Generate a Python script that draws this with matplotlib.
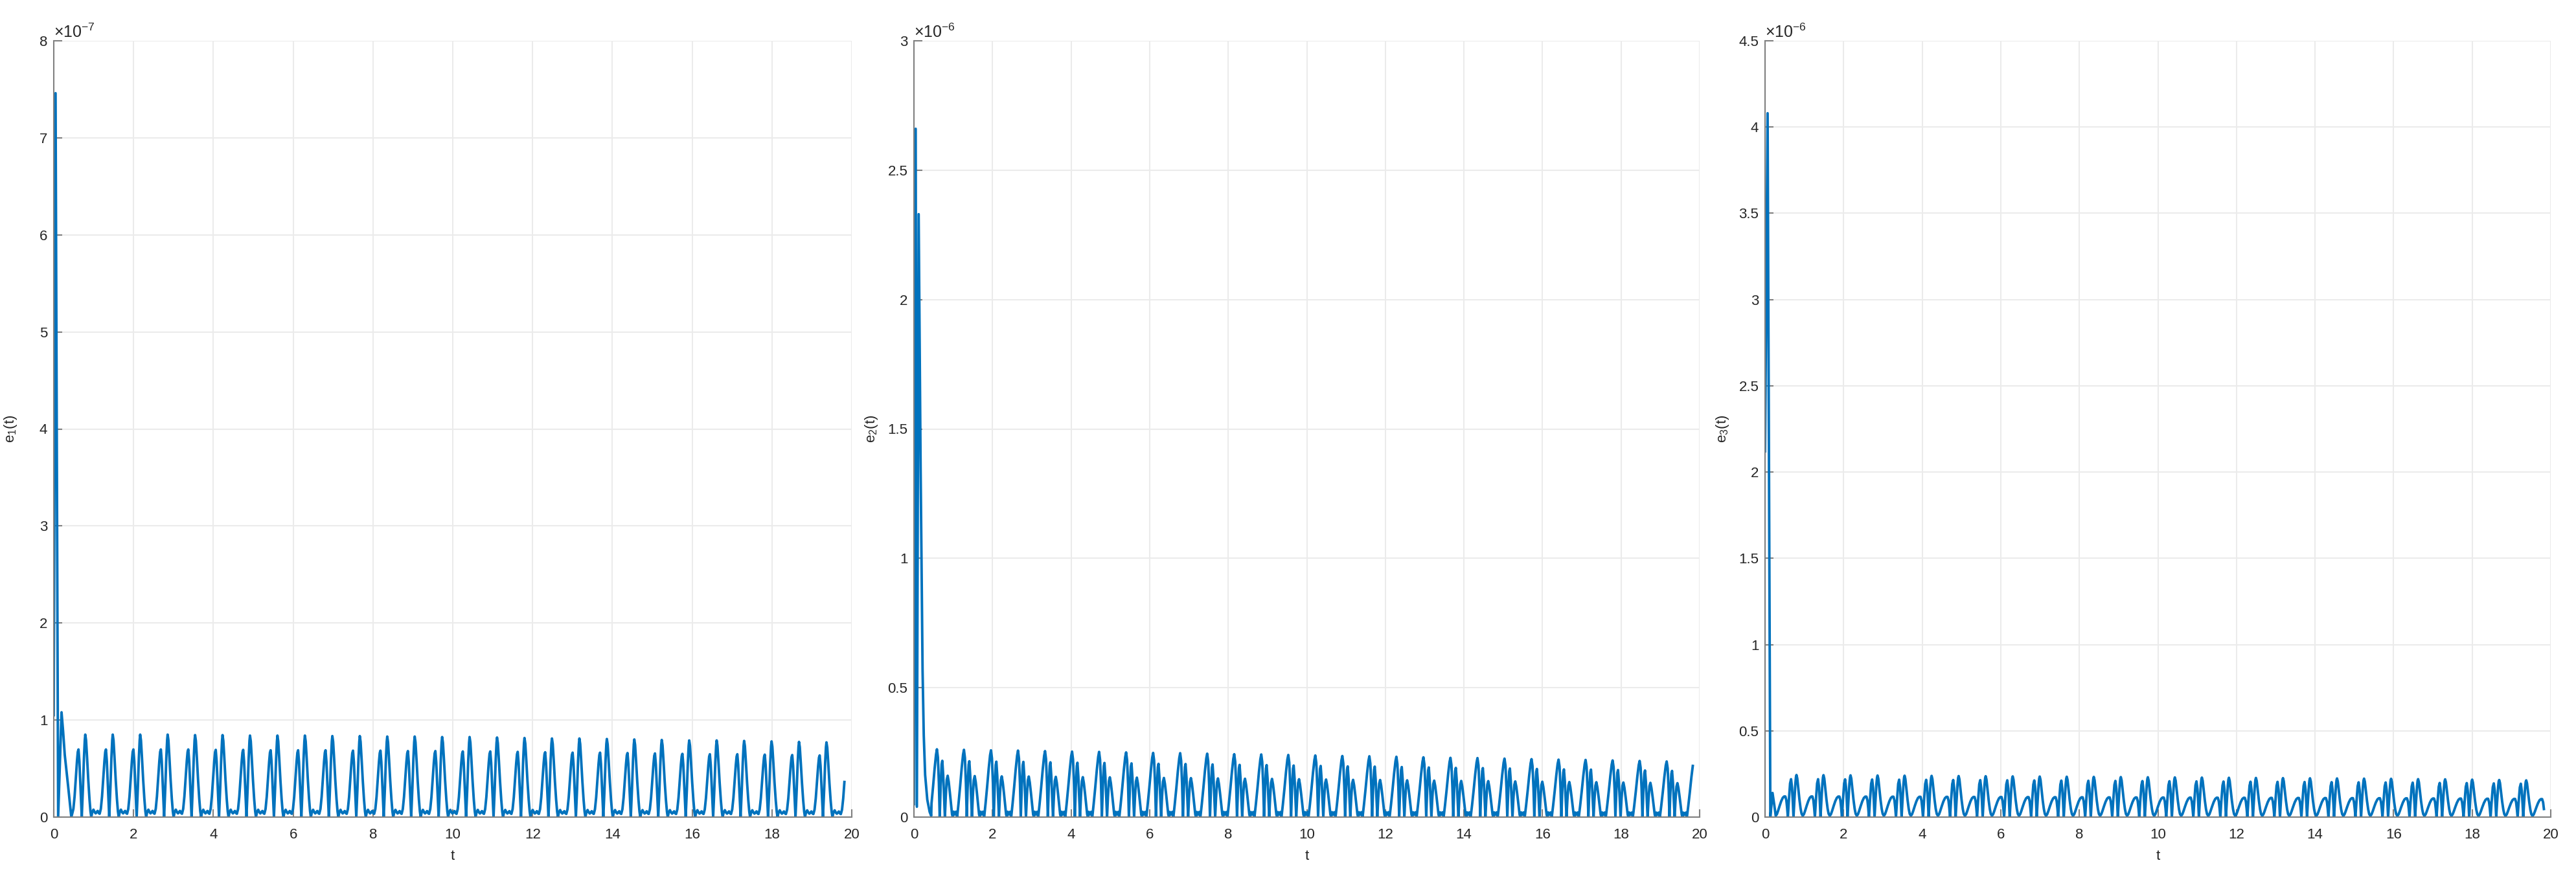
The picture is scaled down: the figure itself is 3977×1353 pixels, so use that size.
import matplotlib
matplotlib.use("Agg")
import matplotlib.pyplot as plt
import numpy as np
from matplotlib.ticker import MultipleLocator, FuncFormatter

plt.rcParams["font.family"] = ["Liberation Sans", "DejaVu Sans"]
plt.rcParams["mathtext.fontset"] = "custom"
plt.rcParams["mathtext.rm"] = "Liberation Sans"
plt.rcParams["mathtext.it"] = "Liberation Sans:italic"

# Спільні параметри сигналу
PERIOD = 0.688  # період коливань
T_END = 19.84

# e1(t), одиниці 1e-7
e1_trans_t = [0.0, 0.045, 0.11, 0.195, 0.235, 0.276, 0.357, 0.44]
e1_trans_v = [1.05, 7.46, 0.0, 1.08, 0.88, 0.64, 0.33, 0.0]
e1_switch = 0.445
e1_first_peak = 0.79
e1_phase = [0.000, 0.020, 0.045, 0.075, 0.105, 0.130, 0.150, 0.175, 0.205, 0.235,
            0.260, 0.285, 0.310, 0.335, 0.360, 0.390, 0.420, 0.450, 0.480, 0.500,
            0.518, 0.540, 0.570, 0.600, 0.630, 0.655, 0.675]
e1_shape = [1.00, 0.93, 0.72, 0.45, 0.22, 0.07, 0.00, 0.06, 0.09, 0.06,
            0.045, 0.06, 0.075, 0.05, 0.04, 0.10, 0.25, 0.47, 0.68, 0.79,
            0.82, 0.68, 0.33, 0.00, 0.36, 0.72, 0.93]
e1_amps = [0.85, 0.85, 0.85, 0.85, 0.85, 0.845, 0.845, 0.84, 0.84, 0.84,
           0.835, 0.835, 0.83, 0.83, 0.825, 0.825, 0.82, 0.815, 0.81, 0.81,
           0.805, 0.80, 0.795, 0.79, 0.79, 0.785, 0.78, 0.775, 0.77]

# e2(t), одиниці 1e-6
e2_trans_t = [0.0, 0.044, 0.075, 0.12, 0.15, 0.17, 0.19, 0.22, 0.25, 0.285, 0.34, 0.40, 0.44]
e2_trans_v = [0.05, 2.66, 0.04, 2.33, 1.75, 1.35, 1.04, 0.565, 0.316, 0.163, 0.067, 0.02, 0.005]
e2_switch = 0.445
e2_first_peak = 0.585
e2_phase = [0.000, 0.025, 0.050, 0.071, 0.095, 0.120, 0.137, 0.160, 0.185, 0.203,
            0.225, 0.250, 0.274, 0.300, 0.330, 0.360, 0.385, 0.405, 0.425, 0.455,
            0.485, 0.515, 0.550, 0.590, 0.630, 0.665]
e2_shape = [1.00, 0.88, 0.50, 0.00, 0.45, 0.78, 0.83, 0.62, 0.25, 0.00,
            0.30, 0.55, 0.61, 0.52, 0.36, 0.18, 0.04, 0.00, 0.08, 0.04,
            0.08, 0.00, 0.20, 0.45, 0.72, 0.92]
e2_amps = [0.262, 0.262, 0.260, 0.258, 0.257, 0.255, 0.253, 0.252, 0.250, 0.248,
           0.247, 0.245, 0.243, 0.242, 0.240, 0.238, 0.236, 0.235, 0.233, 0.231,
           0.229, 0.228, 0.226, 0.224, 0.222, 0.221, 0.219, 0.217, 0.215]

# e3(t), одиниці 1e-6
e3_trans_t = [0.0, 0.065, 0.135, 0.19, 0.235]
e3_trans_v = [2.12, 4.08, 0.0, 0.14, 0.07]
e3_switch = 0.265
e3_first_peak = 0.80
e3_phase = [0.000, 0.020, 0.045, 0.075, 0.105, 0.130, 0.160, 0.190, 0.220, 0.260,
            0.300, 0.340, 0.375, 0.405, 0.430, 0.450, 0.469, 0.495, 0.525, 0.550,
            0.575, 0.595, 0.612, 0.635, 0.660, 0.675]
e3_shape = [1.00, 0.92, 0.70, 0.42, 0.20, 0.08, 0.03, 0.07, 0.15, 0.27,
            0.38, 0.46, 0.49, 0.49, 0.40, 0.22, 0.00, 0.40, 0.80, 0.90,
            0.70, 0.35, 0.00, 0.40, 0.80, 0.95]
e3_amps = [0.244, 0.244, 0.243, 0.242, 0.241, 0.240, 0.239, 0.238, 0.237, 0.236,
           0.235, 0.234, 0.233, 0.232, 0.231, 0.230, 0.229, 0.228, 0.227, 0.226,
           0.225, 0.224, 0.223, 0.222, 0.220, 0.219, 0.217, 0.215, 0.213]


def build(trans_t, trans_v, t_switch, first_peak, phase, shape, amps):
    ts = list(trans_t)
    vs = list(trans_v)
    for j, a in enumerate(amps):
        base = first_peak + (j - 1) * PERIOD
        for p, r in zip(phase, shape):
            t = base + p
            if t_switch <= t <= T_END:
                ts.append(t)
                vs.append(a * r)
    return np.array(ts), np.array(vs)


panels = [
    (build(e1_trans_t, e1_trans_v, e1_switch, e1_first_peak, e1_phase, e1_shape, e1_amps),
     1e-7, 8, 1, "-7", r"$\mathrm{e_1(t)}$", [83, 1232]),
    (build(e2_trans_t, e2_trans_v, e2_switch, e2_first_peak, e2_phase, e2_shape, e2_amps),
     1e-6, 3, 0.5, "-6", r"$\mathrm{e_2(t)}$", [1411, 1213]),
    (build(e3_trans_t, e3_trans_v, e3_switch, e3_first_peak, e3_phase, e3_shape, e3_amps),
     1e-6, 4.5, 0.5, "-6", r"$\mathrm{e_3(t)}$", [2725, 1213]),
]

W, H = 3977, 1353
fig = plt.figure(figsize=(W / 100, H / 100), dpi=100)

axis_color = "#808080"
text_color = "#262626"

for (t, v), scale, ymax, ystep, expo, ylab, (x0, w) in panels:
    ax = fig.add_axes([x0 / W, 1 - 1262 / H, w / W, 1199 / H])
    ax.plot(t, v * scale, color="#0072BD", linewidth=2.8)

    ax.set_xlim(0, 20)
    ax.set_ylim(0, ymax * scale)
    ax.xaxis.set_major_locator(MultipleLocator(2))
    ax.yaxis.set_major_locator(MultipleLocator(ystep * scale))
    ax.yaxis.set_major_formatter(FuncFormatter(lambda val, _, s=scale: f"{val / s:g}"))

    ax.grid(True, color="#EBEBEB", linewidth=1.5)
    ax.set_axisbelow(True)
    for side in ["top", "right"]:
        ax.spines[side].set_visible(False)
    for side in ["left", "bottom"]:
        ax.spines[side].set_color(axis_color)
        ax.spines[side].set_linewidth(1.5)

    ax.tick_params(direction="in", length=9, width=1.5, color=axis_color,
                   labelsize=16, labelcolor=text_color)
    ax.tick_params(axis="x", pad=12)
    ax.tick_params(axis="y", pad=7)

    ax.set_xlabel("t", fontsize=16, color=text_color)
    ax.xaxis.set_label_coords(0.5, -0.042)
    ax.set_ylabel(ylab, fontsize=16, color=text_color)
    ax.yaxis.set_label_coords(-0.044, 0.5)

    ax.text(0.0, 1.0, r"$\times10^{" + expo + "}$", transform=ax.transAxes,
            ha="left", va="bottom", fontsize=18, color=text_color)

fig.savefig("out.png", dpi=100)
